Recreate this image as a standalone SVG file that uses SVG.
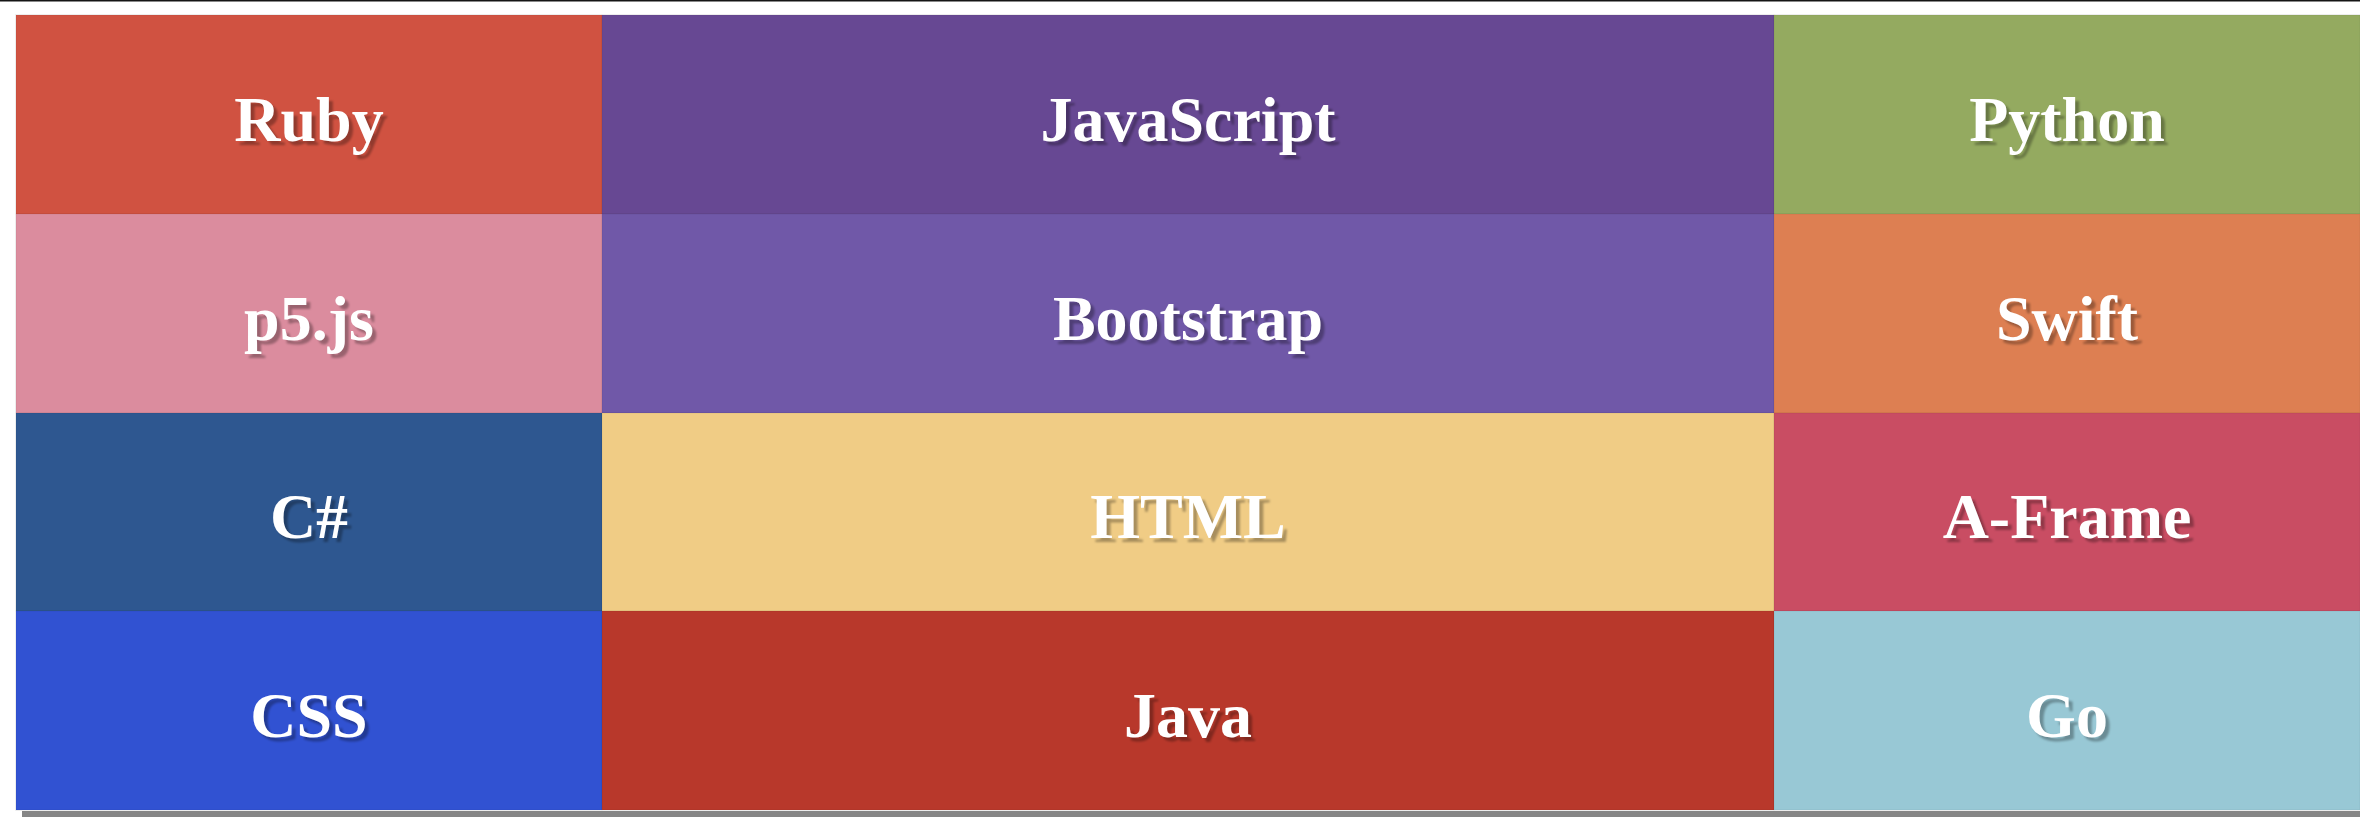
<svg xmlns="http://www.w3.org/2000/svg" width="2360" height="838" viewBox="0 0 2360 838">
<style>
.t{font-family:"Liberation Serif","Times New Roman",serif;font-weight:bold;font-size:64px;text-anchor:middle;fill:#ffffff}
.s{font-family:"Liberation Serif","Times New Roman",serif;font-weight:bold;font-size:64px;text-anchor:middle;fill:#000000;fill-opacity:0.3}
.c{stroke:#000;stroke-opacity:0.06;stroke-width:1}
</style>
<defs>
<filter id="blur" x="-10%" y="-10%" width="120%" height="120%"><feGaussianBlur stdDeviation="0.8"/></filter>
</defs>
<rect x="0" y="0" width="2360" height="838" fill="#ffffff"/>
<rect x="0" y="0" width="2360" height="1.5" fill="#151515"/>
<rect x="22" y="21" width="2344" height="796" fill="#868686"/>
<rect x="15" y="14" width="2346" height="797" fill="#f4f4f4"/>
<g id="ruby"><rect class="c" x="16" y="15" width="586" height="199" fill="#d05241"/><text class="s" x="313" y="145" filter="url(#blur)">Ruby</text><text class="t" x="309" y="141">Ruby</text></g>
<g id="javascript"><rect class="c" x="602" y="15" width="1172" height="199" fill="#674893"/><text class="s" x="1192" y="145" filter="url(#blur)">JavaScript</text><text class="t" x="1188" y="141">JavaScript</text></g>
<g id="python"><rect class="c" x="1774" y="15" width="586" height="199" fill="#94aa60"/><text class="s" x="2071" y="145" filter="url(#blur)">Python</text><text class="t" x="2067" y="141">Python</text></g>
<g id="p5js"><rect class="c" x="16" y="214" width="586" height="199" fill="#db8c9e"/><text class="s" x="313" y="344" filter="url(#blur)">p5.js</text><text class="t" x="309" y="340">p5.js</text></g>
<g id="bootstrap"><rect class="c" x="602" y="214" width="1172" height="199" fill="#7058a8"/><text class="s" x="1192" y="344" filter="url(#blur)">Bootstrap</text><text class="t" x="1188" y="340">Bootstrap</text></g>
<g id="swift"><rect class="c" x="1774" y="214" width="586" height="199" fill="#dd7f52"/><text class="s" x="2071" y="344" filter="url(#blur)">Swift</text><text class="t" x="2067" y="340">Swift</text></g>
<g id="csharp"><rect class="c" x="16" y="413" width="586" height="198" fill="#2e5790"/><text class="s" x="313" y="542" filter="url(#blur)">C#</text><text class="t" x="309" y="538">C#</text></g>
<g id="html"><rect class="c" x="602" y="413" width="1172" height="198" fill="#f0cc85"/><text class="s" x="1192" y="542" filter="url(#blur)">HTML</text><text class="t" x="1188" y="538">HTML</text></g>
<g id="aframe"><rect class="c" x="1774" y="413" width="586" height="198" fill="#c94d63"/><text class="s" x="2071" y="542" filter="url(#blur)">A-Frame</text><text class="t" x="2067" y="538">A-Frame</text></g>
<g id="css"><rect class="c" x="16" y="611" width="586" height="199" fill="#3152d2"/><text class="s" x="313" y="741" filter="url(#blur)">CSS</text><text class="t" x="309" y="737">CSS</text></g>
<g id="java"><rect class="c" x="602" y="611" width="1172" height="199" fill="#b8382b"/><text class="s" x="1192" y="741" filter="url(#blur)">Java</text><text class="t" x="1188" y="737">Java</text></g>
<g id="go"><rect class="c" x="1774" y="611" width="586" height="199" fill="#98c8d5"/><text class="s" x="2071" y="741" filter="url(#blur)">Go</text><text class="t" x="2067" y="737">Go</text></g>
<g id="connectors"></g>
</svg>
